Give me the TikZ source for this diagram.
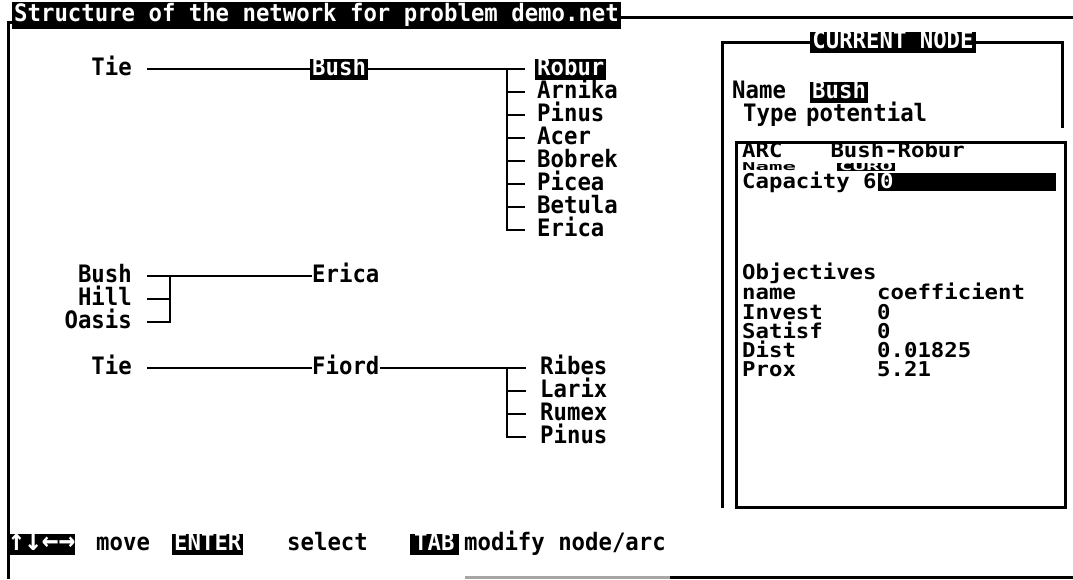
\documentclass[tikz,border=0pt]{standalone}
\usepackage{fontspec}
\usepackage{tikz}
\newfontfamily\dosfont{DejaVu Sans Mono}[FakeStretch=0.93]
\newcommand{\squat}[2][0.85]{\scalebox{1}[#1]{#2}}
\tikzstyle{txt}=[inner sep=0pt,anchor=west,font=\dosfont\bfseries\fontsize{24}{28}\selectfont,text height=17pt,text depth=4pt]
\tikzstyle{hl}=[txt,fill=black,text=white,inner xsep=2pt]
\tikzstyle{low}=[txt,text height=14pt,text depth=2pt]
\tikzstyle{wire}=[line width=2.6pt]
\tikzstyle{frame}=[line width=3pt]

\begin{document}
\begin{tikzpicture}[x=1pt,y=-1pt]
	\useasboundingbox (0,0) rectangle (1073,579);
	% title and outer frame
	\node [hl,inner ysep=3pt] (title) at (12,15) {Structure of the network for problem demo.net};
	\draw [frame] (title.east |- 0,17) -- (1073,17);
	\draw [frame] (12,22) -| (8,579);
	\draw [frame,gray!70] (465,577) -- (670,577);
	\draw [frame] (670,577) -- (1073,577);
	% first tree
	\node [txt,anchor=east] (tie1) at (132,69) {Tie};
	\node [hl] (bush1) at (310,69) {Bush};
	\node [hl] (robur) at (535,69) {Robur};
	\node [txt] (arnika) at (537,92) {Arnika};
	\node [txt] (pinus1) at (537,115) {Pinus};
	\node [txt] (acer) at (537,138) {Acer};
	\node [txt] (bobrek) at (537,161) {Bobrek};
	\node [txt] (picea) at (537,184) {Picea};
	\node [txt] (betula) at (537,207) {Betula};
	\node [txt] (erica1) at (537,230) {Erica};
	\coordinate (j1) at (507,69);
	\draw [wire,shorten <=15pt] (tie1) -- (bush1);
	\draw [wire,shorten >=10pt] (bush1) -- (robur);
	\foreach \n in {arnika,pinus1,acer,bobrek,picea,betula,erica1}
		\draw [wire,shorten >=12pt] (j1) |- (\n);
	% second tree
	\node [txt,anchor=east] (bush2) at (132,276) {Bush};
	\node [txt,anchor=east] (hill) at (132,299) {Hill};
	\node [txt,anchor=east] (oasis) at (132,322) {Oasis};
	\node [txt] (erica2) at (312,276) {Erica};
	\coordinate (j2) at (170,276);
	\draw [wire,shorten <=15pt] (bush2) -- (erica2);
	\draw [wire,shorten <=15pt] (hill) -- (hill -| j2);
	\draw [wire,shorten >=15pt] (j2) |- (oasis);
	% third tree
	\node [txt,anchor=east] (tie3) at (132,368) {Tie};
	\node [txt] (fiord) at (312,368) {Fiord};
	\node [txt] (ribes) at (540,368) {Ribes};
	\node [txt] (larix) at (540,391) {Larix};
	\node [txt] (rumex) at (540,414) {Rumex};
	\node [txt] (pinus3) at (540,437) {Pinus};
	\coordinate (j3) at (507,368);
	\draw [wire,shorten <=15pt] (tie3) -- (fiord);
	\draw [wire,shorten >=14pt] (fiord) -- (ribes);
	\foreach \n in {larix,rumex,pinus3}
		\draw [wire,shorten >=14pt] (j3) |- (\n);
	% current node panel
	\node [hl,anchor=center] (cnode) at (893,42) {CURRENT NODE};
	\draw [frame] (cnode.west) -| (722,508);
	\draw [frame] (cnode.east) -| (1062,128);
	\draw [frame] (736,142) rectangle (1065,507);
	\node [txt] (namek) at (732,92) {Name};
	\node [hl] (nameval) at (810,92) {Bush};
	\node [txt] (typek) at (743,115) {Type};
	\node [txt] (typeval) at (806,115) {potential};
	\node [low,text depth=1pt] (arck) at (742,151) {\squat{ARC\hspace{2em}Bush-Robur}};
	\node [txt,text height=7pt,text depth=1pt] (arcname) at (742,167) {\squat[0.45]{Name}};
	\node [hl,text height=7pt,text depth=1pt] (arcnameval) at (837,167) {\squat[0.45]{CURO}};
	\node [low,text height=15pt,text depth=3pt] (capk) at (742,182) {\squat{Capacity 6}};
	\node [hl,text width=174pt,text height=15pt,text depth=3pt] (capval) at (878,182) {\squat{0}};
	\node [low] (objk) at (742,273) {\squat{Objectives}};
	\node [low] (objname) at (742,293) {\squat{name}};
	\node [low] (objcoef) at (877,293) {\squat{coefficient}};
	\node [low] (invest) at (742,313) {\squat{Invest}};
	\node [low] (investval) at (877,313) {\squat{0}};
	\node [low] (satisf) at (742,332) {\squat{Satisf}};
	\node [low] (satisfval) at (877,332) {\squat{0}};
	\node [low] (dist) at (742,351) {\squat{Dist}};
	\node [low] (distval) at (877,351) {\squat{0.01825}};
	\node [low] (prox) at (742,370) {\squat{Prox}};
	\node [low] (proxval) at (877,370) {\squat{5.21}};
	% key line
	\node [hl,inner xsep=0pt] (kmove) at (8,544) {\fontsize{30}{30}\selectfont↑↓←→};
	\node [txt] (move) at (96,544) {move};
	\node [hl] (kenter) at (172,544) {ENTER};
	\node [txt] (select) at (287,544) {select};
	\node [hl,inner xsep=4pt] (ktab) at (410,544) {TAB};
	\node [txt] (modify) at (464,544) {modify node/arc};
\end{tikzpicture}
\end{document}
